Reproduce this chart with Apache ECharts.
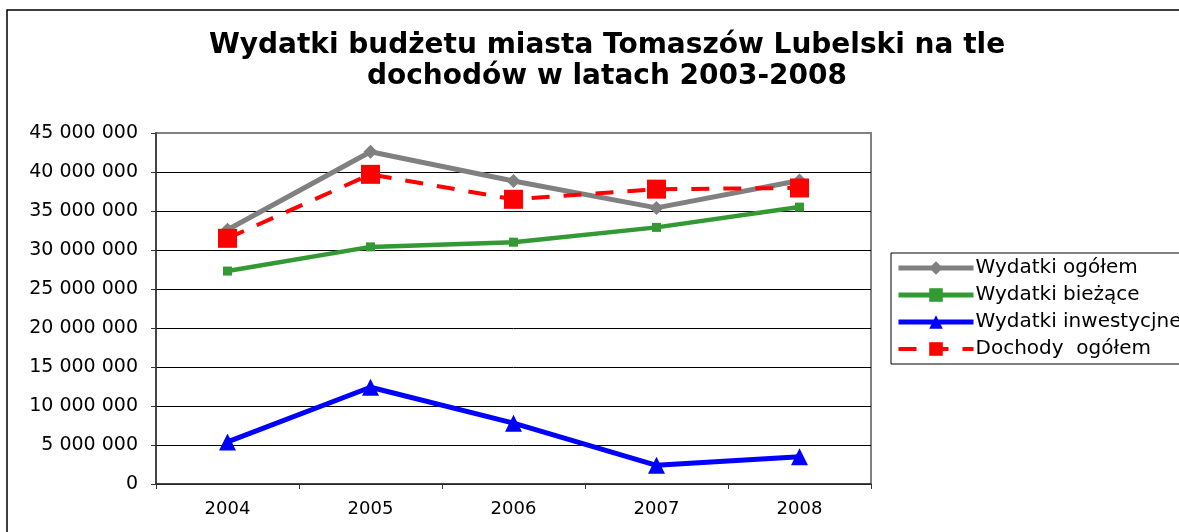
<!DOCTYPE html>
<html>
<head>
<meta charset="utf-8">
<script src="https://cdn.jsdelivr.net/npm/echarts@6/dist/echarts.min.js"></script>
<style>
  html, body { margin: 0; padding: 0; background: #fff; }
  #chart { width: 1179px; height: 532px; }
</style>
</head>
<body>
<div id="chart"></div>
<script>
// dane
var years = ['2004', '2005', '2006', '2007', '2008'];
var wydatkiOgolem = [32600000, 42600000, 38850000, 35400000, 38900000];
var wydatkiBiezace = [27300000, 30400000, 31000000, 32900000, 35500000];
var wydatkiInwestycyjne = [5400000, 12400000, 7800000, 2400000, 3500000];
var dochodyOgolem = [31500000, 39700000, 36500000, 37800000, 37950000];
var seriesNames = ['Wydatki ogółem', 'Wydatki bieżące', 'Wydatki inwestycjne', 'Dochody  ogółem'];

var myChart = echarts.init(document.getElementById('chart'));

function fmt(v) {
  return String(v).replace(/\B(?=(\d{3})+(?!\d))/g, ' ');
}

var font = 'DejaVu Sans, Liberation Sans, sans-serif';

myChart.setOption({
  backgroundColor: '#fff',
  animation: false,
  title: {
    text: 'Wydatki budżetu miasta Tomaszów Lubelski na tle\ndochodów w latach 2003-2008',
    left: 602,
    textAlign: 'center',
    top: 25,
    textStyle: {
      fontFamily: font,
      fontSize: 28,
      fontWeight: 'bold',
      color: '#000',
      lineHeight: 31
    }
  },
  graphic: [{
    type: 'rect',
    shape: { x: 7, y: 10, width: 3000, height: 3000 },
    style: { fill: 'none', stroke: '#000', lineWidth: 1.5 },
    silent: true
  }],
  legend: {
    orient: 'vertical',
    left: 891,
    top: 253,
    padding: [5, 60, 5, 5],
    itemGap: 7,
    itemWidth: 75,
    itemHeight: 17,
    borderColor: '#000',
    borderWidth: 1,
    data: [
      { name: seriesNames[0], lineStyle: { width: 5 } },
      { name: seriesNames[1], lineStyle: { width: 5 } },
      { name: seriesNames[2], lineStyle: { width: 5 } },
      { name: seriesNames[3], lineStyle: { width: 4 } }
    ],
    textStyle: { fontFamily: font, fontSize: 20, color: '#000', padding: [0, 0, 0, -3] }
  },
  grid: {
    left: 156,
    top: 133,
    width: 715,
    height: 351,
    show: true,
    borderColor: '#808080',
    borderWidth: 2,
    containLabel: false
  },
  xAxis: {
    type: 'category',
    data: years,
    boundaryGap: true,
    axisLine: { lineStyle: { color: '#333', width: 1.5 } },
    axisTick: { show: true, length: 5, lineStyle: { color: '#333' } },
    axisLabel: { fontFamily: font, fontSize: 18, color: '#000', margin: 16 }
  },
  yAxis: {
    type: 'value',
    min: 0,
    max: 45000000,
    interval: 5000000,
    axisLine: { show: true, lineStyle: { color: '#333', width: 1.5 } },
    axisTick: { show: true, length: 5, lineStyle: { color: '#333' } },
    axisLabel: {
      fontFamily: font, fontSize: 19, color: '#000', margin: 18,
      formatter: fmt
    },
    splitLine: {
      lineStyle: {
        color: ['#000', '#000', '#000', '#000', '#000', '#000', '#000', '#000', '#000', '#808080'],
        width: 1
      }
    }
  },
  series: [
    {
      name: seriesNames[0],
      type: 'line',
      data: wydatkiOgolem,
      symbol: 'diamond',
      symbolSize: 14,
      itemStyle: { color: '#808080' },
      lineStyle: { color: '#808080', width: 5 }
    },
    {
      name: seriesNames[1],
      type: 'line',
      data: wydatkiBiezace,
      symbol: 'rect',
      symbolSize: 9,
      itemStyle: { color: '#339933' },
      lineStyle: { color: '#339933', width: 4.5 }
    },
    {
      name: seriesNames[2],
      type: 'line',
      data: wydatkiInwestycyjne,
      symbol: 'triangle',
      symbolSize: 17,
      itemStyle: { color: '#0000ff' },
      lineStyle: { color: '#0000ff', width: 5 }
    },
    {
      name: seriesNames[3],
      type: 'line',
      data: dochodyOgolem,
      symbol: 'rect',
      symbolSize: 19,
      itemStyle: { color: '#ff0000' },
      lineStyle: { color: '#ff0000', width: 4, type: [18, 14] }
    }
  ]
});

window.addEventListener('resize', function () {
  myChart.resize();
});
</script>
</body>
</html>
